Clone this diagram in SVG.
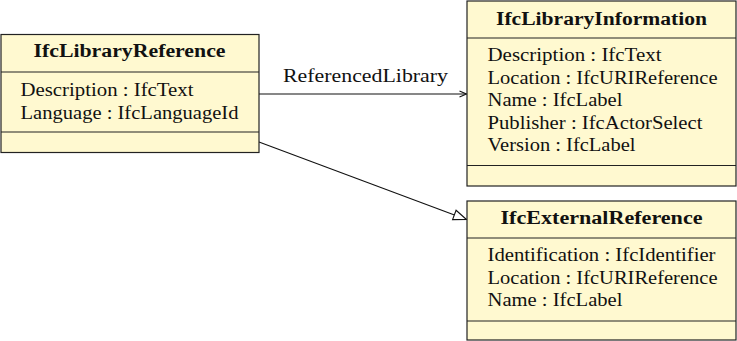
<svg xmlns="http://www.w3.org/2000/svg" width="737" height="341" viewBox="0 0 737 341">
  <style>
    .box { fill: #fff9d0; stroke: #222; stroke-width: 1.2; }
    .sep { stroke: #222; stroke-width: 1.2; }
    .title { font-family: "Liberation Serif", "Times New Roman", serif; font-weight: bold; font-size: 18px; fill: #111; text-anchor: middle; }
    .attr { font-family: "Liberation Serif", "Times New Roman", serif; font-size: 18px; fill: #111; }
    .label { font-family: "Liberation Serif", "Times New Roman", serif; font-size: 18px; fill: #111; text-anchor: middle; }
    .edge { fill: none; stroke: #111; stroke-width: 1.1; }
  </style>
  <defs>
    <marker id="open-arrow" markerWidth="10" markerHeight="10" refX="8" refY="4" orient="auto" markerUnits="userSpaceOnUse">
      <path d="M1,1 L8,4 L1,7" fill="none" stroke="#111" stroke-width="1.1"/>
    </marker>
    <marker id="hollow-triangle" markerWidth="16" markerHeight="14" refX="14" refY="6" orient="auto" markerUnits="userSpaceOnUse">
      <path d="M1,1 L14,6 L1,11 Z" fill="#fff" stroke="#111" stroke-width="1.1"/>
    </marker>
  </defs>

  <!-- associations and generalisation -->
  <g id="connectors">
    <line class="edge" x1="259" y1="94" x2="466.5" y2="94" marker-end="url(#open-arrow)"/>
    <text class="label" x="365.5" y="82" textLength="165" lengthAdjust="spacingAndGlyphs">ReferencedLibrary</text>
    <line class="edge" x1="259" y1="142" x2="466.5" y2="219.5" marker-end="url(#hollow-triangle)"/>
  </g>

  <g id="IfcLibraryReference">
    <rect class="box" x="1" y="34.5" width="258" height="118"/>
    <line class="sep" x1="1" y1="72" x2="259" y2="72"/>
    <line class="sep" x1="1" y1="132" x2="259" y2="132"/>
    <text class="title" x="129.5" y="57" textLength="192" lengthAdjust="spacingAndGlyphs">IfcLibraryReference</text>
    <text class="attr" x="20.5" y="96" textLength="173" lengthAdjust="spacingAndGlyphs">Description : IfcText</text>
    <text class="attr" x="20.5" y="118.5" textLength="218" lengthAdjust="spacingAndGlyphs">Language : IfcLanguageId</text>
  </g>

  <g id="IfcLibraryInformation">
    <rect class="box" x="467" y="1" width="269" height="185"/>
    <line class="sep" x1="467" y1="38" x2="736" y2="38"/>
    <line class="sep" x1="467" y1="165.5" x2="736" y2="165.5"/>
    <text class="title" x="601.5" y="25" textLength="211" lengthAdjust="spacingAndGlyphs">IfcLibraryInformation</text>
    <text class="attr" x="487.5" y="61" textLength="174" lengthAdjust="spacingAndGlyphs">Description : IfcText</text>
    <text class="attr" x="487.5" y="83.5" textLength="230" lengthAdjust="spacingAndGlyphs">Location : IfcURIReference</text>
    <text class="attr" x="487.5" y="106" textLength="135" lengthAdjust="spacingAndGlyphs">Name : IfcLabel</text>
    <text class="attr" x="487.5" y="128.5" textLength="215" lengthAdjust="spacingAndGlyphs">Publisher : IfcActorSelect</text>
    <text class="attr" x="487.5" y="151" textLength="148" lengthAdjust="spacingAndGlyphs">Version : IfcLabel</text>
  </g>

  <g id="IfcExternalReference">
    <rect class="box" x="467" y="201" width="269" height="139"/>
    <line class="sep" x1="467" y1="238" x2="736" y2="238"/>
    <line class="sep" x1="467" y1="321" x2="736" y2="321"/>
    <text class="title" x="601.5" y="224" textLength="202" lengthAdjust="spacingAndGlyphs">IfcExternalReference</text>
    <text class="attr" x="487.5" y="261" textLength="228" lengthAdjust="spacingAndGlyphs">Identification : IfcIdentifier</text>
    <text class="attr" x="487.5" y="283.5" textLength="230" lengthAdjust="spacingAndGlyphs">Location : IfcURIReference</text>
    <text class="attr" x="487.5" y="306" textLength="135" lengthAdjust="spacingAndGlyphs">Name : IfcLabel</text>
  </g>
</svg>
